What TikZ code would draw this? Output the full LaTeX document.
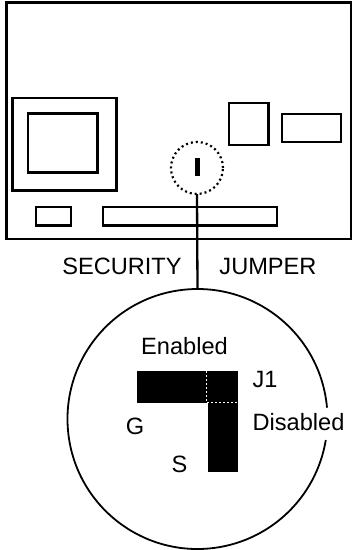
\documentclass[tikz,border=0pt]{standalone}
\usepackage{fontspec}
\setmainfont{Liberation Sans}
\usepackage{xcolor}
\begin{document}
\begin{tikzpicture}[x=1pt,y=-1pt,line width=2.3pt,
  lbl/.style={font=\fontsize{23.6}{25}\selectfont,inner sep=0pt},
  ring/.style={circle,inner sep=0pt,outer sep=0pt}]
\useasboundingbox(0,0)rectangle(352,550);
\fill[white](0,0)rectangle(352,550);
%board
\draw(6.5,2.5)rectangle(351,239);
\draw(12.5,98)rectangle(116.5,190.5);
\draw(28,113.5)rectangle(97.5,172.5);
\draw(229,103)rectangle(268.5,145);
\draw(282,114)rectangle(341,142);
\draw(36,207)rectangle(71,225.5);
\draw(103,207)rectangle(277,225.5);
%jumper on the board
\node[ring,minimum size=52pt,draw,line width=2.2pt,dash pattern=on 2pt off 3pt](spot)at(197,168){};
\fill(195.2,158)rectangle(200.2,175.5);
%enlarged view
\node[ring,minimum size=260pt](lens)at(197.5,419){};
\draw[line width=1.8pt](lens.5)arc[start angle=5,end angle=350.7,radius=130pt];
\draw(spot.south)--(lens.north);
\fill(136.5,371)rectangle(238,402.8);
\fill(208.3,402)rectangle(238,472);
\draw[white,line width=1.3pt,dash pattern=on 1.6pt off 2.4pt](206.8,371)--(206.8,402.8)--(238,402.8);
%labels
\node[lbl](security)at(122,266){SECURITY};
\node[lbl](jumper)at(268,266){JUMPER};
\node[lbl](enabled)at(184.5,346){Enabled};
\node[lbl](jone)at(265,379){J1};
\node[lbl](disabled)at(298.5,422){Disabled};
\node[lbl](gate)at(135,426.5){G};
\node[lbl](source)at(179.5,464.5){S};
\end{tikzpicture}
\end{document}
